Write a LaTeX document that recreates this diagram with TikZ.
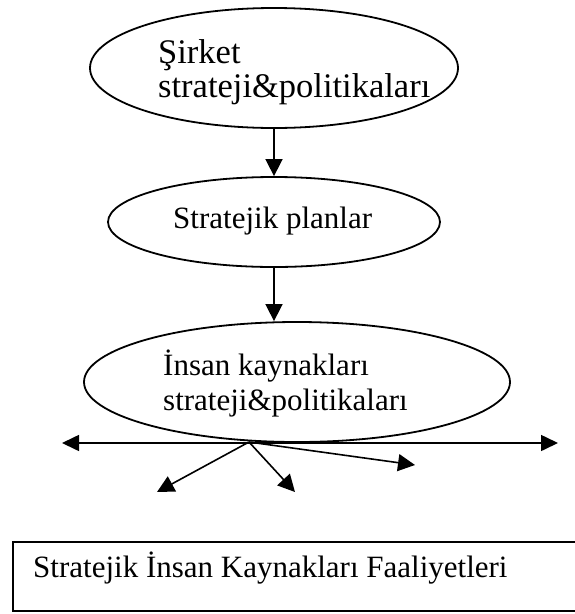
\documentclass[tikz,border=0pt]{standalone}
\usepackage{fontspec}
\setmainfont{Liberation Serif}
\usetikzlibrary{shapes.geometric,arrows.meta}
\tikzset{
  oval/.style={draw, ellipse, line width=1.8pt, inner sep=0pt},
  txtA/.style={anchor=base west, inner sep=0pt, font=\fontsize{34.5}{34}\selectfont},
  txtB/.style={anchor=base west, inner sep=0pt, font=\fontsize{31}{34}\selectfont},
  arr/.style={line width=1.6pt, -{Triangle[length=17pt,width=17pt]}},
  arrboth/.style={line width=1.6pt, {Triangle[length=17pt,width=16pt]}-{Triangle[length=17pt,width=16pt]}},
  boxline/.style={draw, line width=1.6pt, inner sep=0pt, anchor=north west}
}
\begin{document}
\begin{tikzpicture}[x=1pt,y=-1pt]
\useasboundingbox (0,0) rectangle (575,614);
\clip (0,0) rectangle (575,614);
% ellipses
\node[oval, minimum width=368pt, minimum height=120pt] (e1) at (274,68) {};
\node[oval, minimum width=332pt, minimum height=90pt] (e2) at (274,222) {};
\node[oval, minimum width=426pt, minimum height=120pt] (e3) at (297,382) {};
% texts
\node[txtA] (t1a) at (158,63) {Şirket};
\node[txtA] (t1b) at (158,97) {strateji\&politikaları};
\node[txtB] (t2) at (173,228) {Stratejik planlar};
\node[txtB] (t3a) at (163,375) {İnsan kaynakları};
\node[txtB] (t3b) at (163,410) {strateji\&politikaları};
% connectors
\draw[arr] (e2.north |- e1.south) -- (e2.north);
\draw[arr] (e2.south) -- (e2.south |- e3.north);
% fan out
\coordinate (p) at (249,442);
\coordinate (hl) at (62,443);
\coordinate (hr) at (558,443);
\coordinate (d1) at (157,492);
\coordinate (d2) at (295,492);
\coordinate (d3) at (415,465);
\draw[arrboth] (hl) -- (hr);
\draw[arr] (p) -- (d1);
\draw[arr] (p) -- (d2);
\draw[arr] (p) -- (d3);
% bottom box
\node[boxline, minimum width=600pt, minimum height=69pt] (box) at (12,541) {};
\node[txtB] (t4) at (33,577) {Stratejik İnsan Kaynakları Faaliyetleri};
\end{tikzpicture}
\end{document}
